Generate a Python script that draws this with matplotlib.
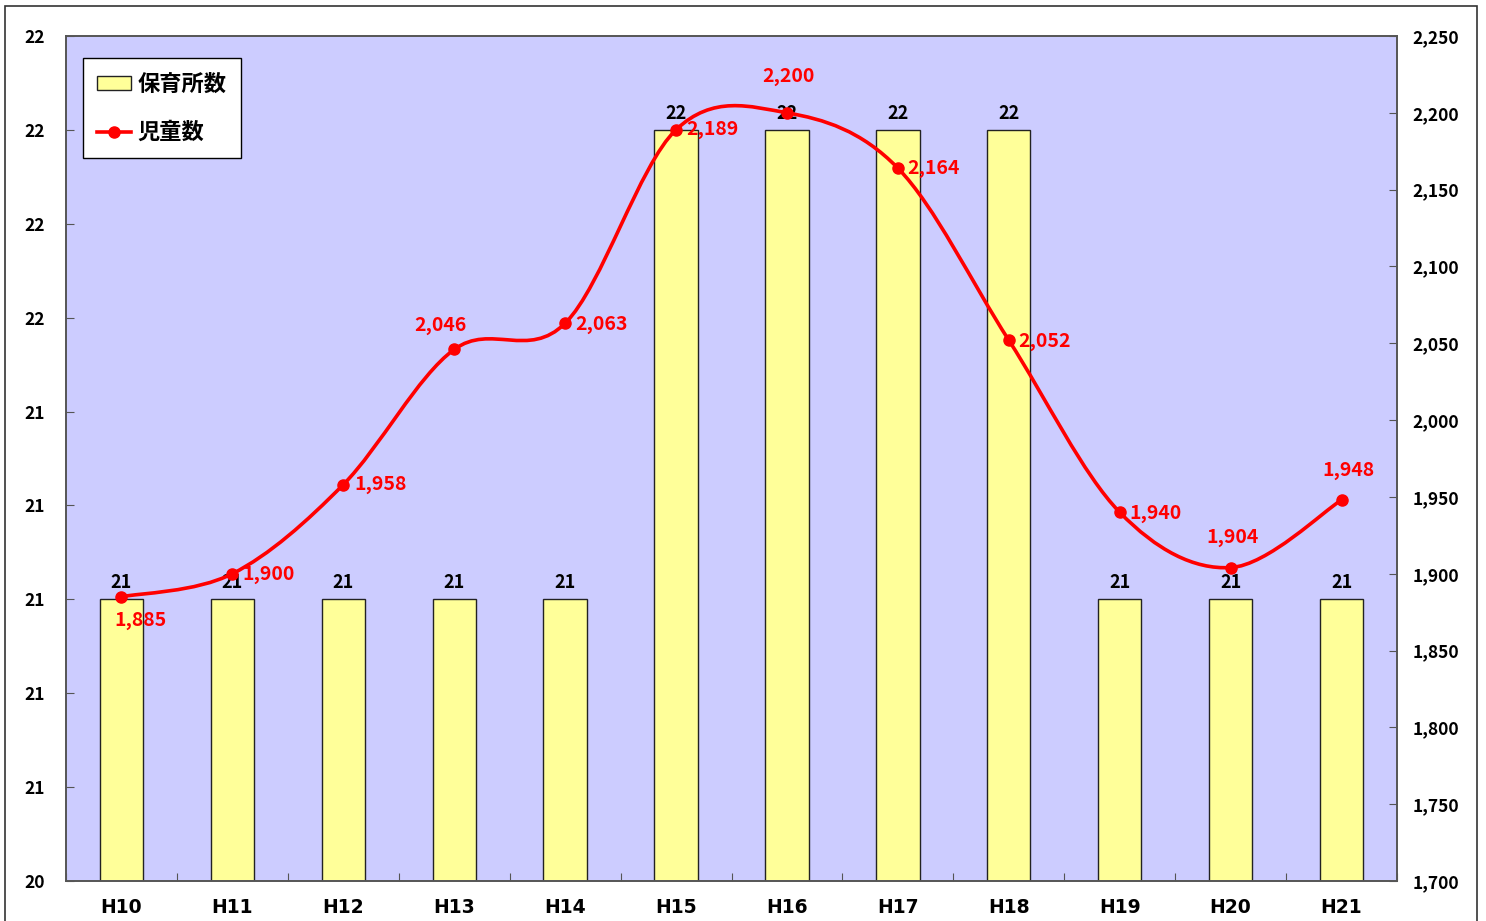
import matplotlib.pyplot as plt
import numpy as np
from matplotlib.path import Path
from matplotlib.patches import PathPatch, Rectangle
from matplotlib.lines import Line2D
from matplotlib.ticker import FuncFormatter, FixedLocator

plt.rcParams['font.family'] = ['Noto Sans CJK JP', 'DejaVu Sans']
plt.rcParams['font.weight'] = 'bold'

years = ['H10', 'H11', 'H12', 'H13', 'H14', 'H15', 'H16', 'H17', 'H18', 'H19', 'H20', 'H21']
nurseries = [21, 21, 21, 21, 21, 22, 22, 22, 22, 21, 21, 21]
children = [1885, 1900, 1958, 2046, 2063, 2189, 2200, 2164, 2052, 1940, 1904, 1948]

# label offsets for the red labels, in pixels
lab_off = [(19, -24), (36, -1), (37, 0), (-14, 24), (36, -1), (36, 0),
           (2, 36), (36, 0), (36, -1), (36, -1), (2, 30), (7, 29)]

fig = plt.figure(figsize=(14.86, 9.21), dpi=100)
ax1 = fig.add_axes([66/1486, 40/921, 1331/1486, 845/921])
ax2 = ax1.twinx()

ax1.set_facecolor('#CCCCFF')
x = np.arange(len(years))
ax1.bar(x, nurseries, width=0.39, color='#FFFF99', edgecolor='#222222', linewidth=1, zorder=2)
ax1.set_xlim(-0.5, len(years) - 0.5)
ax1.set_ylim(20.4, 22.2)
ax1.yaxis.set_major_locator(FixedLocator(np.arange(20.4, 22.21, 0.2)))
ax1.yaxis.set_major_formatter(FuncFormatter(lambda v, p: '%d' % int(round(v))))

ax1.set_xticks(np.arange(-0.5, len(years), 1.0))
ax1.set_xticklabels([])
ax1.set_xticks(x, minor=True)
ax1.set_xticklabels(years, minor=True, family='DejaVu Sans', fontweight='bold')
ax1.tick_params(axis='x', which='major', direction='in', length=6, color='#555555')
ax1.tick_params(axis='x', which='minor', length=0, pad=12, labelsize=13.5)
ax1.tick_params(axis='y', direction='in', length=6, pad=15, labelsize=12.5, color='#555555')

for xi, v in zip(x, nurseries):
    ax1.annotate(str(v), (xi, v), xytext=(0, 5), textcoords='offset points',
                 ha='center', va='bottom', fontsize=13, fontweight='bold', color='black', zorder=10)

# smooth line like Excel (cubic bezier, catmull-rom tangents)
ys = np.array(children, dtype=float)
xs = x.astype(float)
verts = [(xs[0], ys[0])]
codes = [Path.MOVETO]
n = len(xs)
for i in range(n - 1):
    p0 = (xs[max(i - 1, 0)], ys[max(i - 1, 0)])
    p1 = (xs[i], ys[i])
    p2 = (xs[i + 1], ys[i + 1])
    p3 = (xs[min(i + 2, n - 1)], ys[min(i + 2, n - 1)])
    c1 = (p1[0] + (p2[0] - p0[0]) / 6, p1[1] + (p2[1] - p0[1]) / 6)
    c2 = (p2[0] - (p3[0] - p1[0]) / 6, p2[1] - (p3[1] - p1[1]) / 6)
    verts += [c1, c2, p2]
    codes += [Path.CURVE4] * 3
ax2.add_patch(PathPatch(Path(verts, codes), facecolor='none', edgecolor='red', linewidth=2.6, zorder=3))
ax2.plot(xs, ys, linestyle='none', marker='o', markersize=8, color='red', zorder=4)

ax2.set_ylim(1700, 2250)
ax2.yaxis.set_major_locator(FixedLocator(np.arange(1700, 2251, 50)))
ax2.yaxis.set_major_formatter(FuncFormatter(lambda v, p: '{:,.0f}'.format(v)))
ax2.tick_params(axis='y', direction='in', length=6, pad=11, labelsize=12.5, color='#555555')

for xi, v, off in zip(xs, children, lab_off):
    ax2.annotate('{:,}'.format(v), (xi, v), xytext=off, textcoords='offset pixels',
                 ha='center', va='center', fontsize=14, fontweight='bold', color='red', zorder=10)

for ax in (ax1, ax2):
    for s in ax.spines.values():
        s.set_color('#555555')
        s.set_linewidth(1.2)

h1 = Rectangle((0, 0), 1, 1, facecolor='#FFFF99', edgecolor='#222222', linewidth=1)
h2 = Line2D([], [], color='red', linewidth=2.6, marker='o', markersize=8)
leg = ax2.legend([h1, h2], ['保育所数', '児童数'], loc='upper left',
                 bbox_to_anchor=(0.0128, 0.974), fancybox=False, framealpha=1,
                 edgecolor='black', prop={'size': 16, 'weight': 'bold'},
                 labelspacing=1.15, handlelength=1.5, handleheight=0.6, handletextpad=0.3,
                 borderpad=0.65, borderaxespad=0)
leg.get_frame().set_linewidth(1)
leg.set_zorder(20)

fig.patches.append(Rectangle((5/1486, -0.1), 1472/1486, 1.1 - 6/921, transform=fig.transFigure,
                             fill=False, edgecolor='#333333', linewidth=1.2))

fig.savefig('out.png', dpi=100)
